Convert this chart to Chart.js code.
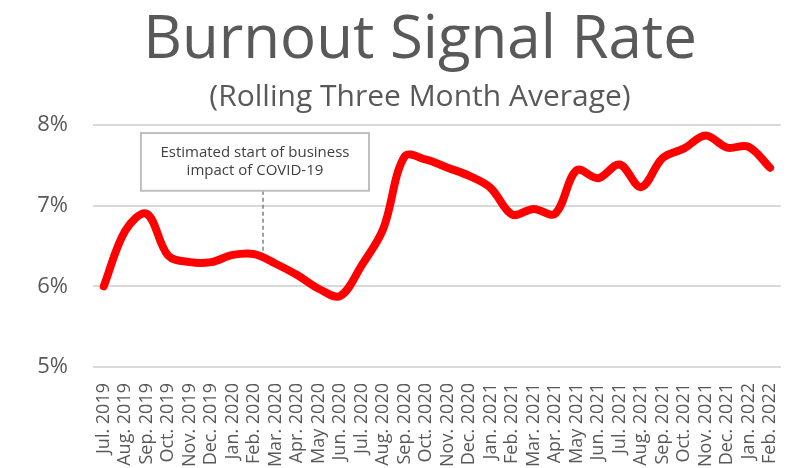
<!DOCTYPE html>
<html><head><meta charset="utf-8">
<script src="https://cdn.jsdelivr.net/npm/chart.js@4.4.1/dist/chart.umd.min.js"></script>
<style>html,body{margin:0;padding:0;background:#fff;}</style>
</head><body>
<canvas id="c" width="800" height="468"></canvas>
<script>
const months = ['Jul. 2019','Aug. 2019','Sep. 2019','Oct. 2019','Nov. 2019','Dec. 2019',
  'Jan. 2020','Feb. 2020','Mar. 2020','Apr. 2020','May 2020','Jun. 2020','Jul. 2020','Aug. 2020',
  'Sep. 2020','Oct. 2020','Nov. 2020','Dec. 2020','Jan. 2021','Feb. 2021','Mar. 2021','Apr. 2021',
  'May 2021','Jun. 2021','Jul. 2021','Aug. 2021','Sep. 2021','Oct. 2021','Nov. 2021','Dec. 2021',
  'Jan. 2022','Feb. 2022'];
const burnoutRate = [6.00, 6.69, 6.90, 6.38, 6.30, 6.30, 6.39, 6.40, 6.28, 6.14, 5.97, 5.88,
  6.26, 6.71, 7.61, 7.57, 7.47, 7.37, 7.22, 6.89, 6.96, 6.90, 7.44, 7.34, 7.51, 7.23, 7.59,
  7.71, 7.87, 7.72, 7.73, 7.47];
const yTicks = [5, 6, 7, 8];
const titleText = 'Burnout Signal Rate';
const subtitleText = '(Rolling Three Month Average)';
const noteLines = ['Estimated start of business', 'impact of COVID-19'];

const FONT = '"Open Sans", "Noto Sans", sans-serif';
const GREY = '#595959';

const titlesPlugin = {
  id: 'titles',
  afterDraw(chart) {
    const ctx = chart.ctx;
    ctx.save();
    ctx.fillStyle = GREY;
    ctx.textAlign = 'center';
    ctx.textBaseline = 'alphabetic';
    ctx.font = '60px ' + FONT;
    ctx.fillText(titleText, 420, 58);
    ctx.font = '30px ' + FONT;
    ctx.fillText(subtitleText, 420, 106);
    ctx.restore();
  }
};

const notePlugin = {
  id: 'note',
  afterDatasetsDraw(chart) {
    const xs = chart.scales.x, ys = chart.scales.y, ctx = chart.ctx;
    const left = xs.getPixelForValue(1.73), right = xs.getPixelForValue(12.34);
    const top = ys.getPixelForValue(7.90), bottom = ys.getPixelForValue(7.185);
    const lx = xs.getPixelForValue(7.41), ly = ys.getPixelForValue(6.41);
    ctx.save();
    ctx.strokeStyle = '#808080';
    ctx.lineWidth = 1.5;
    ctx.setLineDash([4, 3]);
    ctx.beginPath(); ctx.moveTo(lx, bottom); ctx.lineTo(lx, ly); ctx.stroke();
    ctx.setLineDash([]);
    ctx.fillStyle = '#ffffff';
    ctx.fillRect(left, top, right - left, bottom - top);
    ctx.strokeStyle = '#bfbfbf';
    ctx.lineWidth = 2;
    ctx.strokeRect(left, top, right - left, bottom - top);
    ctx.fillStyle = '#404040';
    ctx.font = '15px ' + FONT;
    ctx.textAlign = 'center';
    ctx.textBaseline = 'middle';
    const cx = (left + right) / 2, cy = (top + bottom) / 2;
    ctx.fillText(noteLines[0], cx, cy - 9);
    ctx.fillText(noteLines[1], cx, cy + 9);
    ctx.restore();
  }
};

new Chart(document.getElementById('c'), {
  type: 'line',
  data: {
    labels: months,
    datasets: [{
      data: burnoutRate,
      borderColor: '#ff0000',
      borderWidth: 8,
      pointRadius: 0,
      tension: 0.35,
      borderCapStyle: 'round',
      borderJoinStyle: 'round',
      fill: false,
      clip: false
    }]
  },
  options: {
    responsive: false,
    animation: false,
    layout: { padding: { top: 125, right: 19, left: 0, bottom: 0 } },
    plugins: { legend: { display: false }, tooltip: { enabled: false }, title: { display: false } },
    scales: {
      x: {
        offset: true,
        grid: { display: false },
        border: { display: false },
        ticks: { autoSkip: false, maxRotation: 90, minRotation: 90, padding: 8, color: GREY,
          font: { family: FONT, size: 18 } },
        afterFit(s) { s.height = 101; }
      },
      y: {
        min: 5, max: 8,
        afterBuildTicks(s) { s.ticks = yTicks.map(v => ({ value: v })); },
        grid: { color: '#d9d9d9', lineWidth: 2, drawTicks: false },
        border: { display: false },
        ticks: { padding: 25, color: GREY, font: { family: FONT, size: 22 }, callback: v => v + '%' },
        afterFit(s) { s.width = 93; }
      }
    }
  },
  plugins: [titlesPlugin, notePlugin]
});
</script>
</body></html>
